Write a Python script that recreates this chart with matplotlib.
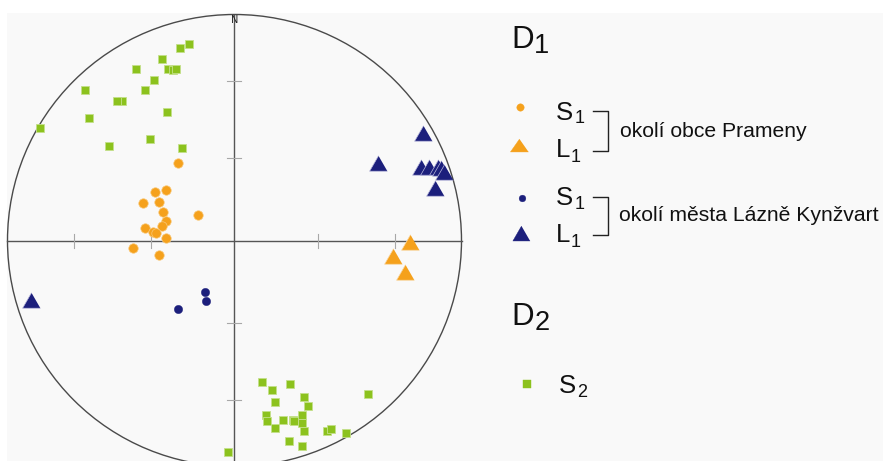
import numpy as np
import matplotlib
matplotlib.use("Agg")
import matplotlib.pyplot as plt
from matplotlib.patches import Ellipse, Rectangle

plt.rcParams['font.family'] = ['Liberation Sans', 'DejaVu Sans']

# ---- Data: positions on the equal-area (Schmidt) net, unit-circle coords (x = E, y = N)
# D2 - S2 (green squares)
s2_x = [-0.199, -0.239, -0.319, -0.433, -0.293, -0.271, -0.256, -0.356, -0.394, -0.659,
        -0.496, -0.517, -0.298, -0.642, -0.856, -0.373, -0.554, -0.233,
        0.122, 0.244, 0.167, 0.589, 0.307, 0.180, 0.325, 0.140, 0.142, 0.214, 0.299,
        0.256, 0.262, 0.299, 0.178, 0.307, 0.409, 0.425, 0.490, 0.239, 0.296, -0.029]
s2_y = [0.871, 0.850, 0.802, 0.757, 0.759, 0.754, 0.759, 0.708, 0.664, 0.665,
        0.617, 0.617, 0.569, 0.542, 0.498, 0.450, 0.419, 0.409,
        -0.626, -0.636, -0.662, -0.679, -0.691, -0.715, -0.731, -0.773, -0.797, -0.793, -0.773,
        -0.794, -0.800, -0.809, -0.831, -0.844, -0.844, -0.835, -0.852, -0.887, -0.909, -0.936]

# D1 - S1, okolí obce Prameny (orange circles)
s1p_x = [-0.248, -0.303, -0.352, -0.403, -0.334, -0.314, -0.159, -0.302, -0.321, -0.396,
         -0.360, -0.346, -0.302, -0.445, -0.334]
s1p_y = [0.344, 0.222, 0.213, 0.165, 0.170, 0.127, 0.112, 0.086, 0.062, 0.054,
         0.038, 0.035, 0.010, -0.034, -0.062]

# D1 - L1, okolí obce Prameny (orange triangles)
l1p_x = [0.773, 0.700, 0.752]
l1p_y = [-0.005, -0.067, -0.138]

# D1 - S1, okolí města Lázně Kynžvart (navy circles)
s1k_x = [-0.129, -0.124, -0.247]
s1k_y = [-0.226, -0.269, -0.304]

# D1 - L1, okolí města Lázně Kynžvart (navy triangles)
l1k_x = [-0.898, 0.832, 0.631, 0.822, 0.857, 0.896, 0.910, 0.923, 0.883]
l1k_y = [-0.265, 0.474, 0.344, 0.325, 0.325, 0.325, 0.321, 0.303, 0.231]

ORANGE = '#F5A11C'
NAVY = '#1C1F7C'
GREEN = '#8CC21E'

W, H = 883, 461
fig = plt.figure(figsize=(W / 100, H / 100), dpi=100)
fig.patch.set_facecolor('white')
fig.add_artist(Rectangle((7 / W, 0), 1 - 7 / W, 1 - 13 / H, transform=fig.transFigure,
                         facecolor='#f9f9f9', edgecolor='none', zorder=-5))

# ---- stereonet axes
cx, cy, RX, RY = 234.5, 240.5, 227.0, 226.0
ax = fig.add_axes([0, 0, 1, 1])
ax.set_xlim(-cx / RX, (W - cx) / RX)
ax.set_ylim((cy - H) / RY, cy / RY)
ax.axis('off')

ax.add_patch(Ellipse((0, 0), 2, 2, facecolor='none', edgecolor='#4a4a4a', lw=1.0, zorder=2))
ax.plot([-1, 1], [0, 0], color='#555555', lw=1.0, zorder=2)
ax.plot([0, 0], [-1.2, 1], color='#555555', lw=1.0, zorder=2)
# 30 / 60 degree ticks (equal-area radii)
for p in (30, 60):
    r = np.sqrt(2) * np.sin(np.radians(90 - p) / 2)
    for s in (-1, 1):
        ax.plot([-7 / RX, 7 / RX], [s * r, s * r], color='#a8a8a8', lw=0.8, zorder=2)
        ax.plot([s * r, s * r], [-7 / RY, 7 / RY], color='#a8a8a8', lw=0.8, zorder=2)
ax.text(0, (cy - 19.5) / RY, 'N', ha='center', va='center', fontsize=7, color='#222222',
        family='DejaVu Sans', zorder=3)

tri = [(0, 0.5), (-0.577, -0.5), (0.577, -0.5)]
tri_flat = [(0, 0.5), (-0.7, -0.5), (0.7, -0.5)]

ax.plot(s2_x, s2_y, ls='none', marker='s', ms=5.9, mfc=GREEN, mec='#c4e08a', mew=0.6, zorder=4)
ax.plot(s1p_x, s1p_y, ls='none', marker='o', ms=6.8, mfc=ORANGE, mec='#f9c97a', mew=0.5, zorder=4)
ax.plot(s1k_x, s1k_y, ls='none', marker='o', ms=6.0, mfc=NAVY, mec=NAVY, mew=0.3, zorder=4)
ax.plot(l1p_x, l1p_y, ls='none', marker=tri, ms=12.8, mfc=ORANGE, mec='#f9d49a', mew=0.5, zorder=4)
ax.plot(l1k_x, l1k_y, ls='none', marker=tri, ms=12.8, mfc=NAVY, mec='#b8b8dc', mew=0.5, zorder=4)

# ---- legend overlay (pixel coordinates)
lax = fig.add_axes([0, 0, 1, 1])
lax.set_xlim(0, W)
lax.set_ylim(H, 0)
lax.axis('off')

def txt(x, y, s, size):
    lax.text(x, y, s, fontsize=size, ha='left', va='baseline', color='#111111')

txt(511, 48.3, 'D', 22.5)
txt(533.5, 52.7, '1', 19.5)
txt(511, 325, 'D', 22.5)
txt(534.5, 330, '2', 19.5)

txt(555.5, 119.5, 'S', 18.5); txt(574.5, 123, '1', 13)
txt(555.5, 156.7, 'L', 18.5); txt(571, 161.7, '1', 13)
txt(555.5, 205, 'S', 18.5); txt(574.5, 208.5, '1', 13)
txt(555.5, 241.7, 'L', 18.5); txt(571, 246.7, '1', 13)
txt(559, 393.3, 'S', 18.5); txt(577, 396.7, '2', 13)

lax.plot([593, 608, 608, 593], [111, 111, 151, 151], color='#222222', lw=1.0)
lax.plot([593, 608, 608, 593], [196.7, 196.7, 235, 235], color='#222222', lw=1.0)
txt(620.5, 136.7, 'okolí obce Prameny', 15.2)
txt(619, 221.2, 'okolí města Lázně Kynžvart', 15.2)

lax.plot([520], [106.7], ls='none', marker='o', ms=5.3, mfc=ORANGE, mec=ORANGE, mew=0.3)
lax.plot([519], [145.5], ls='none', marker=tri_flat, ms=13, mfc=ORANGE, mec=ORANGE, mew=0.3)
lax.plot([521.7], [198.3], ls='none', marker='o', ms=4.8, mfc=NAVY, mec=NAVY, mew=0.3)
lax.plot([521.3], [232.5], ls='none', marker=tri, ms=12.4, mfc=NAVY, mec=NAVY, mew=0.3)
lax.plot([527], [384], ls='none', marker='s', ms=5.8, mfc=GREEN, mec=GREEN, mew=0.3)

fig.savefig('out.png', dpi=100, facecolor='white')
